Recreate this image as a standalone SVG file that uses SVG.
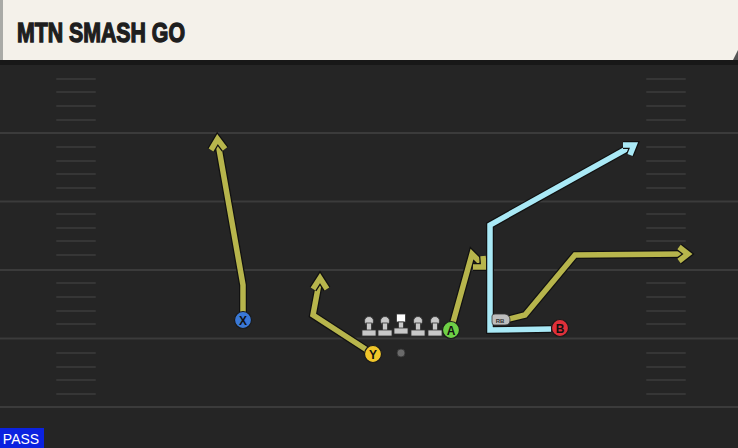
<svg xmlns="http://www.w3.org/2000/svg" width="738" height="448" viewBox="0 0 738 448">
<defs>
<style>
.yl{stroke:#3b3b3b;stroke-width:2}
.hm{stroke:#363636;stroke-width:2;stroke-linecap:round}
.rto{fill:none;stroke:#111;stroke-width:8;stroke-linejoin:miter;stroke-linecap:butt}
.rt{fill:none;stroke-width:5.5;stroke-linejoin:miter;stroke-linecap:butt}
.aho{fill:none;stroke:#111;stroke-width:8;stroke-linejoin:miter}
.ah{fill:none;stroke-width:5.5;stroke-linejoin:miter}
.ol{stroke:#b7b54c}
.bl{stroke:#a9e9f6}
.ptxt{font-family:"Liberation Sans",Arial,sans-serif;font-weight:bold;font-size:12px;fill:#111;text-anchor:middle}
.ln{fill:#c8c8c8;stroke:#333;stroke-width:0.8}
</style>
</defs>
<rect width="738" height="448" fill="#252525"/>
<g id="field">
<line class="yl" x1="0" y1="133" x2="738" y2="133"/>
<line class="yl" x1="0" y1="201.5" x2="738" y2="201.5"/>
<line class="yl" x1="0" y1="270" x2="738" y2="270"/>
<line class="yl" x1="0" y1="338.5" x2="738" y2="338.5"/>
<line class="yl" x1="0" y1="407" x2="738" y2="407"/>
<g id="hashL">
<line class="hm" x1="57" y1="79" x2="95" y2="79"/><line class="hm" x1="57" y1="92" x2="95" y2="92"/><line class="hm" x1="57" y1="106" x2="95" y2="106"/><line class="hm" x1="57" y1="120" x2="95" y2="120"/>
<line class="hm" x1="57" y1="147" x2="95" y2="147"/><line class="hm" x1="57" y1="161" x2="95" y2="161"/><line class="hm" x1="57" y1="174" x2="95" y2="174"/><line class="hm" x1="57" y1="188" x2="95" y2="188"/>
<line class="hm" x1="57" y1="214" x2="95" y2="214"/><line class="hm" x1="57" y1="228" x2="95" y2="228"/><line class="hm" x1="57" y1="241" x2="95" y2="241"/><line class="hm" x1="57" y1="255" x2="95" y2="255"/>
<line class="hm" x1="57" y1="283" x2="95" y2="283"/><line class="hm" x1="57" y1="297" x2="95" y2="297"/><line class="hm" x1="57" y1="311" x2="95" y2="311"/><line class="hm" x1="57" y1="324" x2="95" y2="324"/>
<line class="hm" x1="57" y1="353" x2="95" y2="353"/><line class="hm" x1="57" y1="367" x2="95" y2="367"/><line class="hm" x1="57" y1="380" x2="95" y2="380"/><line class="hm" x1="57" y1="394" x2="95" y2="394"/>
</g>
<g id="hashR">
<line class="hm" x1="647" y1="79" x2="685" y2="79"/><line class="hm" x1="647" y1="92" x2="685" y2="92"/><line class="hm" x1="647" y1="106" x2="685" y2="106"/><line class="hm" x1="647" y1="120" x2="685" y2="120"/>
<line class="hm" x1="647" y1="147" x2="685" y2="147"/><line class="hm" x1="647" y1="161" x2="685" y2="161"/><line class="hm" x1="647" y1="174" x2="685" y2="174"/><line class="hm" x1="647" y1="188" x2="685" y2="188"/>
<line class="hm" x1="647" y1="214" x2="685" y2="214"/><line class="hm" x1="647" y1="228" x2="685" y2="228"/><line class="hm" x1="647" y1="241" x2="685" y2="241"/><line class="hm" x1="647" y1="255" x2="685" y2="255"/>
<line class="hm" x1="647" y1="283" x2="685" y2="283"/><line class="hm" x1="647" y1="297" x2="685" y2="297"/><line class="hm" x1="647" y1="311" x2="685" y2="311"/><line class="hm" x1="647" y1="324" x2="685" y2="324"/>
<line class="hm" x1="647" y1="353" x2="685" y2="353"/><line class="hm" x1="647" y1="367" x2="685" y2="367"/><line class="hm" x1="647" y1="380" x2="685" y2="380"/><line class="hm" x1="647" y1="394" x2="685" y2="394"/>
</g>
</g>
<g id="header">
<rect x="0" y="60" width="738" height="5" fill="#181818"/>
<rect x="0" y="0" width="738" height="60" fill="#f4f1ea"/>
<rect x="0" y="0" width="3" height="60" fill="#a9aaa6"/>
<path d="M733,60 L738,50 L738,60 Z" fill="#555"/>
<text x="17" y="42" font-family="'Liberation Sans',Arial,sans-serif" font-weight="bold" font-size="28" fill="#1e1e1e" stroke="#1e1e1e" stroke-width="1.4" stroke-linejoin="miter" textLength="168" lengthAdjust="spacingAndGlyphs">MTN SMASH GO</text>
</g>
<g id="connectors">
<polyline class="rto" points="243,318 243,285 218,143"/>
<polyline class="rt ol" points="243,318 243,285 218,143"/>
<path class="aho" d="M211,150 L217.5,139 L225,149"/>
<path class="ah ol" d="M211,150 L217.5,139 L225,149"/>

<polyline class="rto" points="370,352 313,315 319,283"/>
<polyline class="rt ol" points="370,352 313,315 319,283"/>
<path class="aho" d="M313,289 L320,278 L327,289"/>
<path class="ah ol" d="M313,289 L320,278 L327,289"/>

<polyline class="rto" points="452,326 472,254 480,262"/>
<polyline class="rt ol" points="452,326 472,254 480,262"/>
<path class="aho" d="M483,256 L484,267 L473,267"/>
<path class="ah ol" d="M483,256 L484,267 L473,267"/>

<polyline class="rto" points="505,320 525,315 575,255 684,254"/>
<polyline class="rt ol" points="505,320 525,315 575,255 684,254"/>
<path class="aho" d="M679,247 L688,254 L679,261"/>
<path class="ah ol" d="M679,247 L688,254 L679,261"/>

<polyline class="rto" points="551,329 490,330 490,225 630,147"/>
<polyline class="rt bl" points="551,329 490,330 490,225 630,147"/>
<path class="aho" d="M623,145 L634,145 L630,155"/>
<path class="ah bl" d="M623,145 L634,145 L630,155"/>
</g>
<g id="oline">
<g id="lt"><circle cx="369" cy="321" r="4.5" class="ln"/><rect x="366.5" y="323" width="5" height="8" class="ln"/><rect x="362" y="330" width="14" height="6" class="ln"/></g>
<g id="lg"><circle cx="385" cy="321" r="4.5" class="ln"/><rect x="382.5" y="323" width="5" height="8" class="ln"/><rect x="378" y="330" width="14" height="6" class="ln"/></g>
<g id="c"><rect x="396.5" y="314" width="9" height="8" fill="#fff" stroke="#333" stroke-width="0.8"/><rect x="398.5" y="322" width="5" height="7" class="ln"/><rect x="394" y="328" width="14" height="6" class="ln"/></g>
<g id="rg"><circle cx="418" cy="321" r="4.5" class="ln"/><rect x="415.5" y="323" width="5" height="8" class="ln"/><rect x="411" y="330" width="14" height="6" class="ln"/></g>
<g id="rt"><circle cx="435" cy="321" r="4.5" class="ln"/><rect x="432.5" y="323" width="5" height="8" class="ln"/><rect x="428" y="330" width="14" height="6" class="ln"/></g>
</g>
<g id="ball"><circle cx="401" cy="353" r="4" fill="#6a6a6a" stroke="#333" stroke-width="0.8"/></g>
<g id="X"><circle cx="243" cy="320" r="8.5" fill="#3a78d6" stroke="#1a1a1a" stroke-width="1.2"/><text x="243" y="324.5" class="ptxt">X</text></g>
<g id="Y"><circle cx="373" cy="354" r="8.5" fill="#f1c62a" stroke="#1a1a1a" stroke-width="1.2"/><text x="373" y="358.5" class="ptxt">Y</text></g>
<g id="A"><circle cx="451" cy="330" r="8.5" fill="#6ed046" stroke="#1a1a1a" stroke-width="1.2"/><text x="451" y="334.5" class="ptxt">A</text></g>
<g id="B"><circle cx="560" cy="328" r="8.5" fill="#e0303a" stroke="#1a1a1a" stroke-width="1.2"/><text x="560" y="332.5" class="ptxt">B</text></g>
<g id="RB"><path d="M492,316 Q492,314 495,314 L505,314 Q510,315 510,320 Q510,325 505,325 L494,325 Q492,325 492,322 Z" fill="#bdbdbd" stroke="#333" stroke-width="0.8"/><text x="500" y="322.5" font-family="'Liberation Sans',Arial,sans-serif" font-weight="bold" font-size="6" fill="#333" text-anchor="middle">RB</text></g>
<g id="pass"><rect x="0" y="428" width="44" height="20" fill="#0b22e0"/><text x="21" y="444" font-family="'Liberation Sans',Arial,sans-serif" font-size="14" fill="#fff" text-anchor="middle">PASS</text></g>
</svg>
